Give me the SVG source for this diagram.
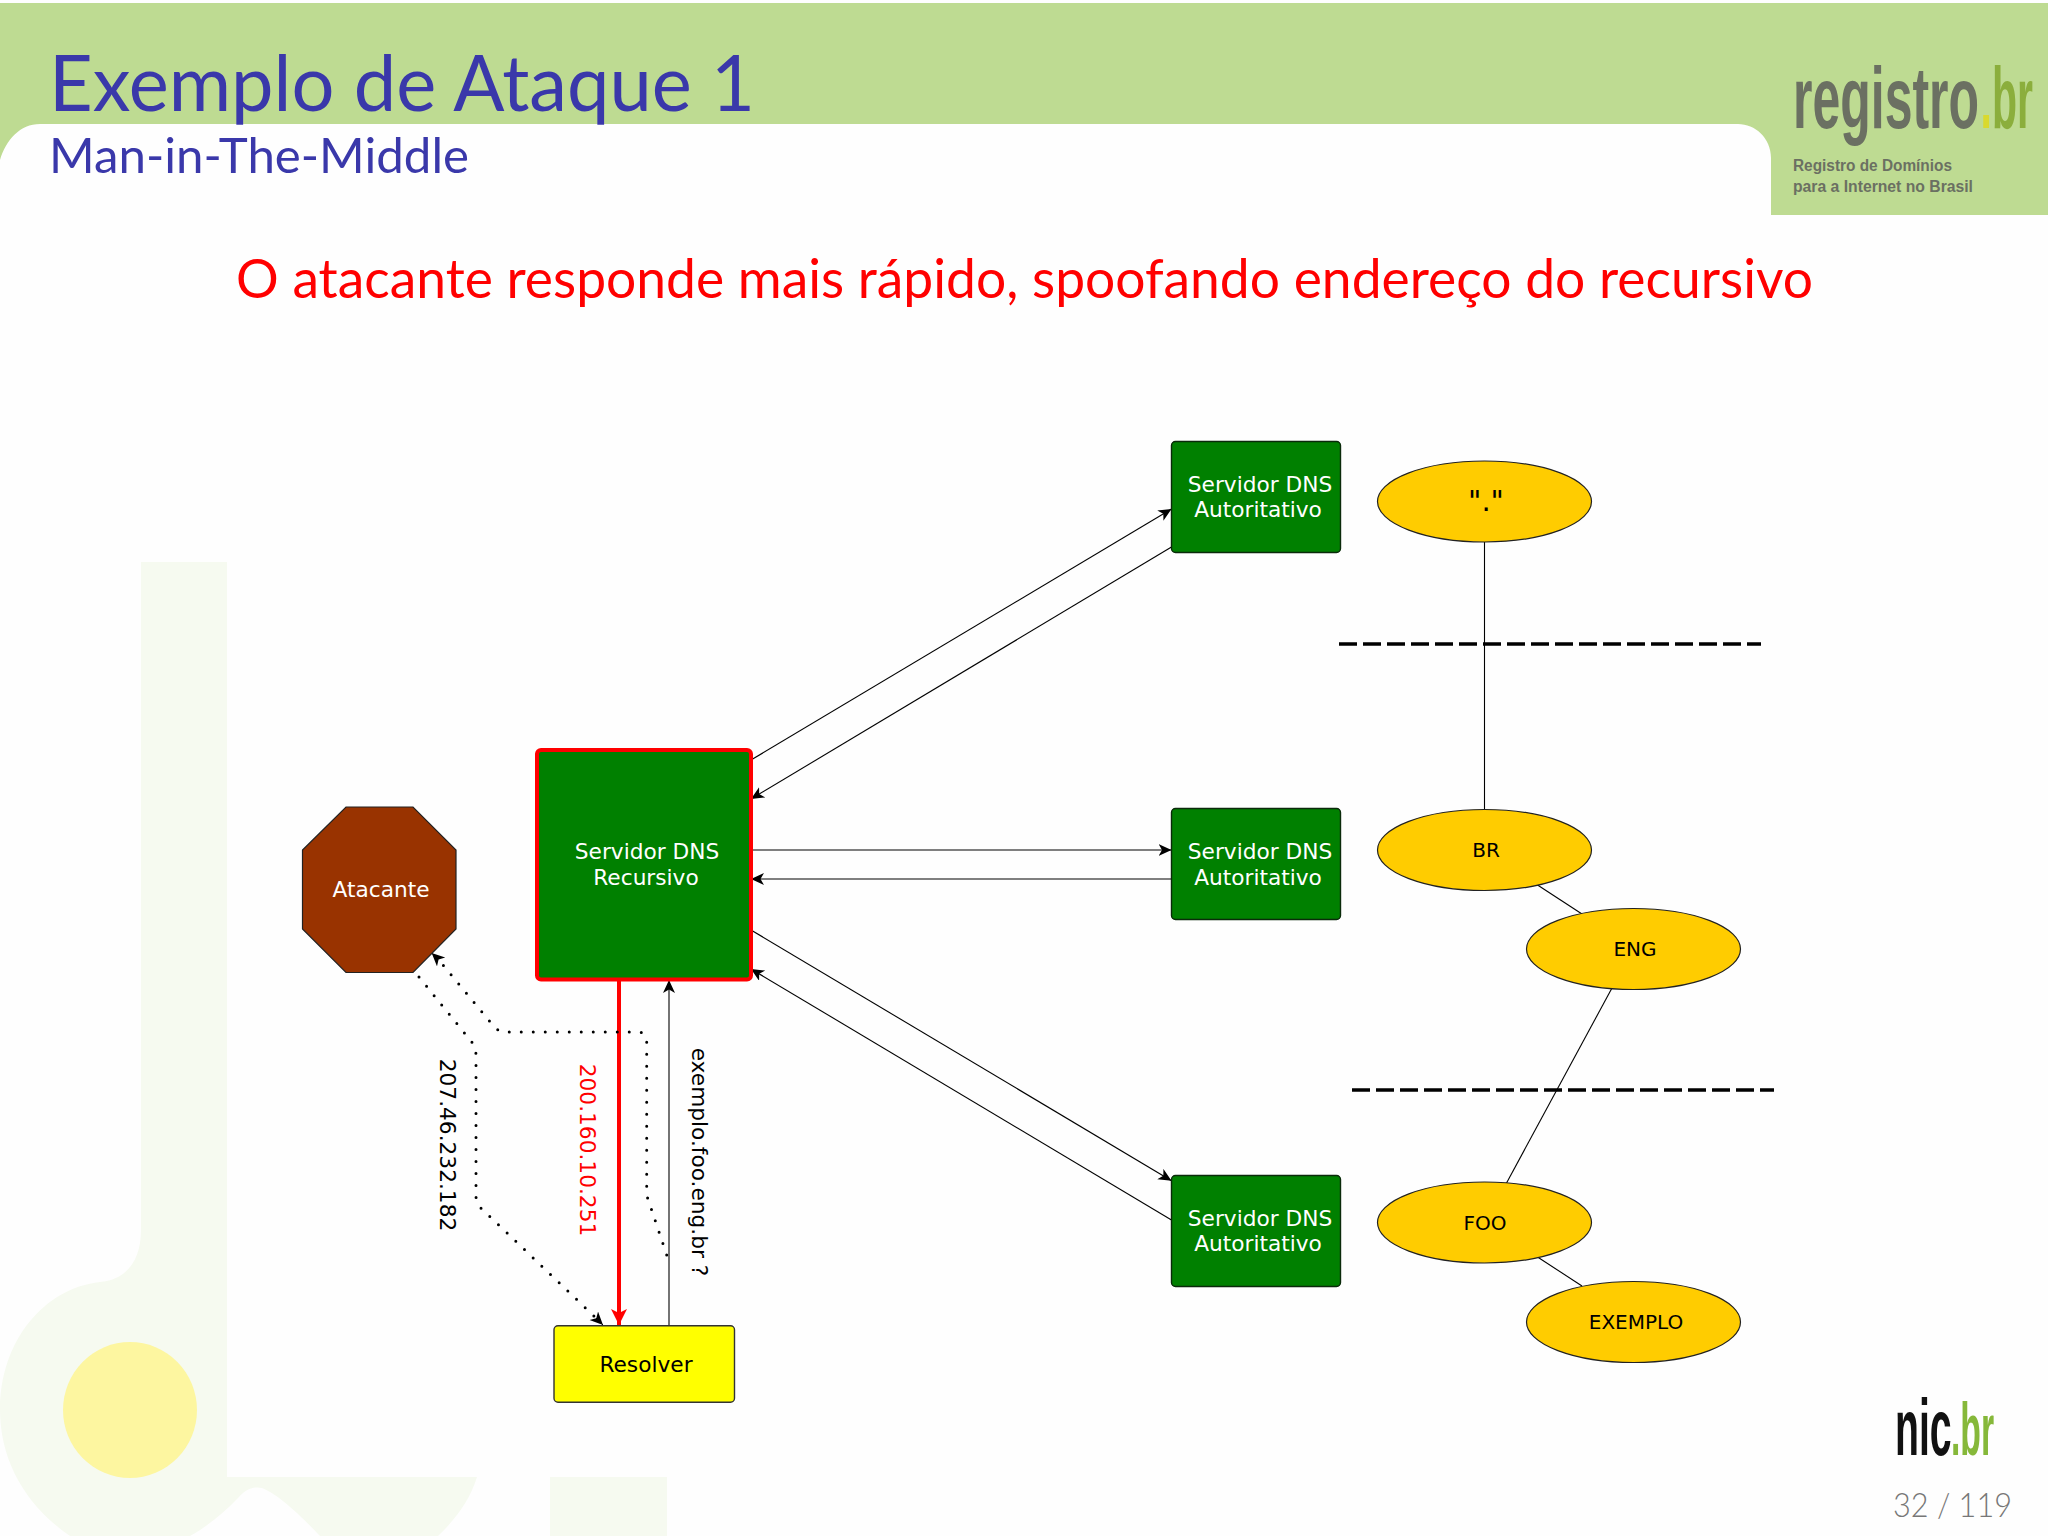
<svg xmlns="http://www.w3.org/2000/svg" width="2048" height="1536" viewBox="0 0 2048 1536">
<style>
.hd{font-family:Lato,"Open Sans",sans-serif;font-weight:400}
.lb{font-family:"DejaVu Sans",sans-serif;font-size:21.7px;text-anchor:middle;fill:#000}
.sm{font-size:20px}
.wt{fill:#fff}
.srv{fill:#008000;stroke:#0b2a0b;stroke-width:1.4}
.zone{fill:#ffcc00;stroke:#222;stroke-width:1.2}
.ln{fill:none;stroke:#000;stroke-width:1.1}
.dot{fill:none;stroke:#000;stroke-width:3;stroke-linecap:round;stroke-dasharray:0 12}
.dash{fill:none;stroke:#000;stroke-width:3.6;stroke-dasharray:18 6}
.wm{fill:#f6faf0}
.logo{font-family:"Liberation Sans",sans-serif;font-weight:700}
</style>
<defs>
<marker id="a" markerUnits="userSpaceOnUse" markerWidth="16" markerHeight="14" refX="13" refY="6" orient="auto"><path d="M0 0L13 6L0 12L3.5 6Z" fill="#000"/></marker>
<marker id="r" markerUnits="userSpaceOnUse" markerWidth="18" markerHeight="18" refX="16" refY="8" orient="auto"><path d="M0 0L16 8L0 16L4 8Z" fill="#f00"/></marker>
</defs>
<rect width="2048" height="1536" fill="#fefefe"/>
<g id="watermark">
<path class="wm" d="M141 562H227V1477H477C470 1500 455 1520 438 1536H320C305 1520 280 1495 262 1488C252 1486 245 1490 238 1498C225 1512 205 1528 190 1536H70C25 1505 0 1460 0 1410C0 1340 45 1288 100 1282C125 1280 141 1262 141 1230Z"/>
<rect class="wm" x="550" y="1477" width="117" height="59"/>
<ellipse cx="130" cy="1410" rx="67" ry="68" fill="#fdf6a0"/>
</g>
<g id="header">
<path d="M0 3H2048V215H1771V158C1771 138 1755 124 1738 124H40C20 124 6 140 0 160Z" fill="#bedb92"/>
<text class="hd" x="49" y="111" font-size="78" fill="#3a38aa" textLength="706" lengthAdjust="spacingAndGlyphs">Exemplo de Ataque 1</text>
<text class="hd" x="49" y="173" font-size="48" fill="#3a38aa" textLength="420" lengthAdjust="spacingAndGlyphs">Man-in-The-Middle</text>
<text class="logo" transform="translate(1793 128) scale(.568 1)" font-size="88" fill="#6b7062">registro</text>
<text class="logo" transform="translate(1980.6 128) scale(.465 1)" font-size="88" fill="#8bae3c"><tspan fill="#d9d92e">.</tspan>br</text>
<text class="logo" x="1793" y="171" font-size="16" fill="#6b7062" textLength="159" lengthAdjust="spacingAndGlyphs">Registro de Domínios</text>
<text class="logo" x="1793" y="192" font-size="16" fill="#6b7062" textLength="180" lengthAdjust="spacingAndGlyphs">para a Internet no Brasil</text>
</g>
<text id="headline" class="hd" x="236" y="298" font-size="54" fill="#f00" textLength="1577" lengthAdjust="spacingAndGlyphs">O atacante responde mais rápido, spoofando endereço do recursivo</text>
<g id="connectors">
<path class="ln" marker-end="url(#a)" d="M751 760L1171.5 509"/>
<path class="ln" marker-end="url(#a)" d="M1171.5 547L751 799"/>
<path class="ln" marker-end="url(#a)" d="M751 850H1171.5"/>
<path class="ln" marker-end="url(#a)" d="M1171.5 879H751"/>
<path class="ln" marker-end="url(#a)" d="M751 930L1171.5 1180.7"/>
<path class="ln" marker-end="url(#a)" d="M1171.5 1220L751 969"/>
<path class="ln" marker-end="url(#a)" d="M669 1326V980"/>
<path d="M619 980V1325" fill="none" stroke="#f00" stroke-width="4" marker-end="url(#r)"/>
<path class="dot" d="M419 977L471 1041Q476 1047 476 1056V1196Q476 1204 482 1209L596 1318"/>
<path fill="none" d="M596 1318L603 1325" stroke="#000" marker-end="url(#a)"/>
<path class="dot" d="M666.7 1255L650 1205Q646.7 1198 646.7 1190V1042Q646.7 1032 638 1032H505Q498 1032 492 1024L438 959"/>
<path fill="none" d="M438 959L431.7 953" stroke="#000" marker-end="url(#a)"/>
<path class="ln" d="M1484.5 542V810"/>
<path class="ln" d="M1536 884L1582 914"/>
<path class="ln" d="M1612 988L1506 1184"/>
<path class="ln" d="M1536 1256L1582 1286"/>
<path class="dash" d="M1339 644H1761"/>
<path class="dash" d="M1352 1090H1774"/>
</g>
<g id="auth1"><rect class="srv" x="1171.5" y="441.5" width="169" height="111" rx="4"/><text class="lb wt" x="1260" y="491.5">Servidor DNS</text><text class="lb wt" x="1258" y="517">Autoritativo</text></g>
<g id="auth2"><rect class="srv" x="1171.5" y="808.5" width="169" height="111" rx="4"/><text class="lb wt" x="1260" y="859">Servidor DNS</text><text class="lb wt" x="1258" y="884.5">Autoritativo</text></g>
<g id="auth3"><rect class="srv" x="1171.5" y="1175.5" width="169" height="111" rx="4"/><text class="lb wt" x="1260" y="1225.5">Servidor DNS</text><text class="lb wt" x="1258" y="1251">Autoritativo</text></g>
<g id="recursive"><rect x="537" y="750" width="214" height="229.5" rx="4" fill="#008000" stroke="#f00" stroke-width="4"/><text class="lb wt" x="647" y="859">Servidor DNS</text><text class="lb wt" x="646" y="884.5">Recursivo</text></g>
<g id="attacker"><path d="M346 807H413L456 850V929L413 972.5H346L302.5 929V850Z" fill="#993300" stroke="#222" stroke-width="1.2"/><text class="lb wt" x="381" y="897">Atacante</text></g>
<g id="resolver"><rect x="554" y="1325.7" width="180.5" height="76.5" rx="4" fill="#ff0" stroke="#333" stroke-width="1.4"/><text class="lb" x="646" y="1371.5">Resolver</text></g>
<g id="root"><ellipse class="zone" cx="1484.5" cy="501.5" rx="107" ry="40.5"/><text class="lb" x="1486" y="511" style="font-size:29px">"."</text></g>
<g id="br"><ellipse class="zone" cx="1484.5" cy="850" rx="107" ry="40.5"/><text class="lb sm" x="1486" y="857">BR</text></g>
<g id="eng"><ellipse class="zone" cx="1633.5" cy="949" rx="107" ry="40.5"/><text class="lb sm" x="1635" y="956">ENG</text></g>
<g id="foo"><ellipse class="zone" cx="1484.5" cy="1222.5" rx="107" ry="40.5"/><text class="lb sm" x="1485" y="1229.5">FOO</text></g>
<g id="exemplo"><ellipse class="zone" cx="1633.5" cy="1322" rx="107" ry="40.5"/><text class="lb sm" x="1636" y="1329">EXEMPLO</text></g>
<g id="labels">
<text class="lb" transform="translate(440 1145) rotate(90)">207.46.232.182</text>
<text class="lb" transform="translate(580 1150) rotate(90)" style="fill:#f00">200.160.10.251</text>
<text class="lb" transform="translate(692 1162) rotate(90)">exemplo.foo.eng.br ?</text>
</g>
<g id="footer">
<text class="logo" transform="translate(1895 1455) scale(.49 1)" font-size="80" fill="#111">nic</text>
<text class="logo" transform="translate(1951 1455) scale(.45 1)" font-size="75" fill="#86b83a">.br</text>
<text x="1893" y="1517" font-family="Lato,sans-serif" font-weight="300" font-size="33" fill="#777" textLength="119" lengthAdjust="spacingAndGlyphs">32 / 119</text>
</g>
</svg>
